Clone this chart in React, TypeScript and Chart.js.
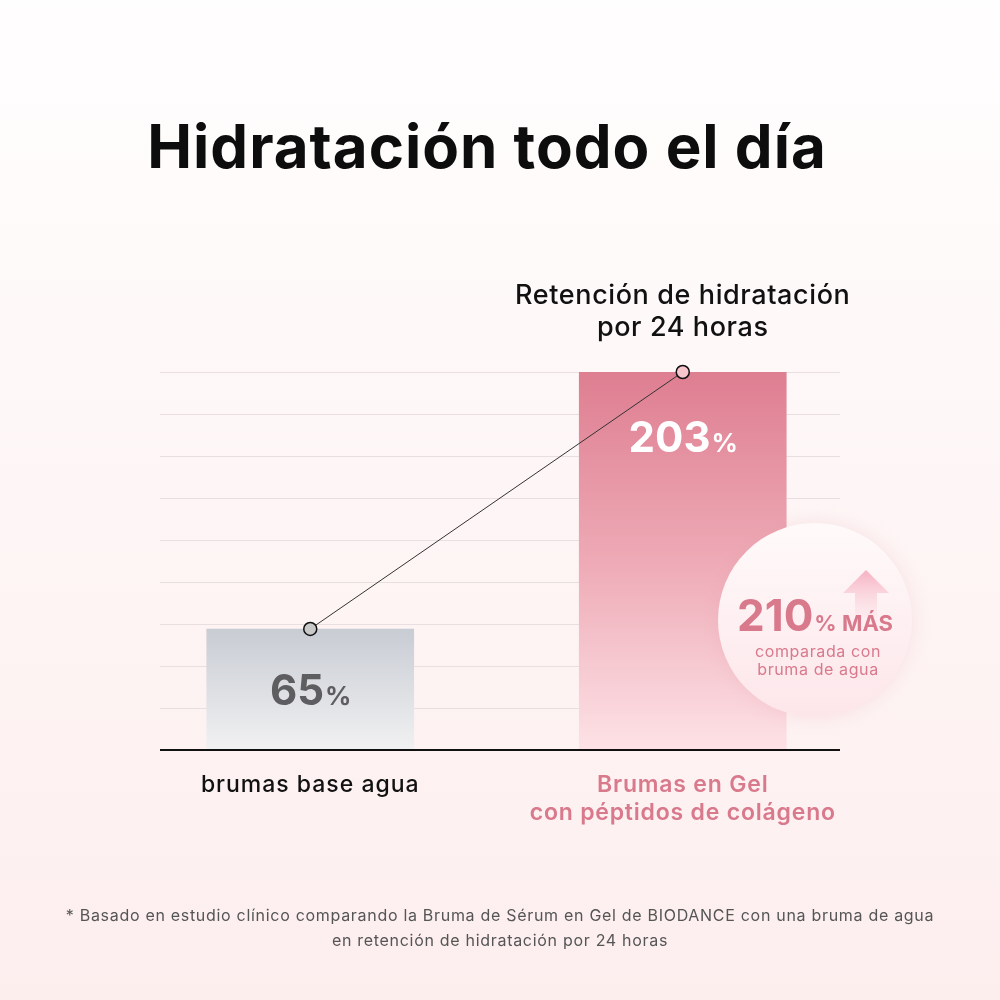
import React, { useEffect, useRef } from "react";
import { Chart, registerables } from "chart.js";

Chart.register(...registerables);

const title = "Hidratación todo el día";
const subtitleLines = ["Retención de hidratación", "por 24 horas"];
const categories: string[][] = [["brumas base agua"], ["Brumas en Gel", "con péptidos de colágeno"]];
const values = [65, 203];
const valueUnits = ["%", "%"];
const yMax = 203;
const gridLineCount = 10;
const badgeValue = "210";
const badgeUnit = "% MÁS";
const badgeLines = ["comparada con", "bruma de agua"];
const footnoteLines = [
  "* Basado en estudio clínico comparando la Bruma de Sérum en Gel de BIODANCE con una bruma de agua",
  "en retención de hidratación por 24 horas",
];

const FONT = "Inter, 'Noto Sans', sans-serif";
const PINK = "#d9798c";

export default function App() {
  const ref = useRef<HTMLCanvasElement | null>(null);

  useEffect(() => {
    const canvas = ref.current;
    if (!canvas) return;

    const decor = {
      id: "decor",
      beforeDraw(chart: any) {
        const { ctx, width, height } = chart;
        ctx.save();
        const bg = ctx.createLinearGradient(0, 0, 0, height);
        bg.addColorStop(0, "#fffefe");
        bg.addColorStop(0.35, "#fef8f8");
        bg.addColorStop(1, "#fdeeee");
        ctx.fillStyle = bg;
        ctx.fillRect(0, 0, width, height);
        const y = chart.scales.y;
        ctx.strokeStyle = "#eadfe0";
        ctx.lineWidth = 1;
        for (let i = 0; i < gridLineCount; i++) {
          const v = (yMax / (gridLineCount - 1)) * i;
          const py = Math.round(y.getPixelForValue(v)) + 0.5;
          ctx.beginPath();
          ctx.moveTo(160, py);
          ctx.lineTo(840, py);
          ctx.stroke();
        }
        ctx.restore();
      },
      afterDatasetsDraw(chart: any) {
        const { ctx } = chart;
        const y = chart.scales.y;
        ctx.save();
        ctx.strokeStyle = "#111";
        ctx.lineWidth = 2;
        const by = y.getPixelForValue(0);
        ctx.beginPath();
        ctx.moveTo(160, by);
        ctx.lineTo(840, by);
        ctx.stroke();
        ctx.restore();
      },
      afterDraw(chart: any) {
        const { ctx } = chart;
        const x = chart.scales.x;
        const y = chart.scales.y;
        ctx.save();
        ctx.textBaseline = "middle";
        ctx.textAlign = "center";

        // title
        ctx.fillStyle = "#0d0d0d";
        ctx.letterSpacing = "1px";
        ctx.font = `700 60px ${FONT}`;
        ctx.fillText(title, 487, 150);

        // subtitle
        ctx.fillStyle = "#111";
        ctx.letterSpacing = "0.6px";
        ctx.font = `500 27px ${FONT}`;
        const cx2 = x.getPixelForValue(1);
        subtitleLines.forEach((l, i) => ctx.fillText(l, cx2, 296 + i * 32));
        ctx.letterSpacing = "0px";

        // value labels
        const drawValue = (i: number, color: string, cy: number) => {
          const num = String(values[i]);
          const unit = valueUnits[i];
          ctx.font = `700 42px ${FONT}`;
          const w1 = ctx.measureText(num).width;
          ctx.font = `700 26px ${FONT}`;
          const w2 = ctx.measureText(unit).width;
          const start = x.getPixelForValue(i) - (w1 + w2) / 2;
          ctx.textAlign = "left";
          ctx.textBaseline = "alphabetic";
          ctx.fillStyle = color;
          ctx.font = `700 42px ${FONT}`;
          ctx.fillText(num, start, cy + 15);
          ctx.font = `700 26px ${FONT}`;
          ctx.fillText(unit, start + w1 + 1, cy + 15);
          ctx.textAlign = "center";
          ctx.textBaseline = "middle";
        };
        drawValue(0, "#5e5e60", (y.getPixelForValue(values[0]) + y.getPixelForValue(0)) / 2 + 1);
        drawValue(1, "#ffffff", y.getPixelForValue(values[1]) + 65);

        // category labels
        categories.forEach((lines, i) => {
          ctx.letterSpacing = i === 0 ? "1px" : "0.8px";
          ctx.fillStyle = i === 0 ? "#111" : PINK;
          ctx.font = `${i === 0 ? 500 : 600} 23px ${FONT}`;
          lines.forEach((l, j) => ctx.fillText(l, x.getPixelForValue(i), 785 + j * 28));
        });
        ctx.letterSpacing = "0px";

        // badge circle
        const bcx = 815, bcy = 620, br = 97;
        ctx.save();
        ctx.shadowColor = "rgba(225,150,165,0.22)";
        ctx.shadowBlur = 20;
        const cg = ctx.createLinearGradient(0, bcy - br, 0, bcy + br);
        cg.addColorStop(0, "#fffafa");
        cg.addColorStop(1, "#fde6ea");
        ctx.fillStyle = cg;
        ctx.beginPath();
        ctx.arc(bcx, bcy, br, 0, Math.PI * 2);
        ctx.fill();
        ctx.restore();

        // arrow
        const ag = ctx.createLinearGradient(0, 571, 0, 618);
        ag.addColorStop(0, "#f6b2c3");
        ag.addColorStop(1, "rgba(250,210,220,0.15)");
        ctx.fillStyle = ag;
        ctx.beginPath();
        ctx.moveTo(866, 570);
        ctx.lineTo(889, 593);
        ctx.lineTo(877, 593);
        ctx.lineTo(877, 618);
        ctx.lineTo(855, 618);
        ctx.lineTo(855, 593);
        ctx.lineTo(843, 593);
        ctx.closePath();
        ctx.fill();

        // badge text
        ctx.fillStyle = PINK;
        ctx.textAlign = "left";
        ctx.textBaseline = "alphabetic";
        ctx.font = `700 44px ${FONT}`;
        const bw1 = ctx.measureText(badgeValue).width;
        const bstart = 737;
        ctx.fillText(badgeValue, bstart, 631);
        ctx.font = `700 22px ${FONT}`;
        ctx.fillText(badgeUnit, bstart + bw1 + 1, 631);
        ctx.textAlign = "center";
        ctx.textBaseline = "middle";
        ctx.letterSpacing = "0.6px";
        ctx.font = `400 16px ${FONT}`;
        badgeLines.forEach((l, i) => ctx.fillText(l, bcx + 3, 652 + i * 18));

        // footnote
        ctx.fillStyle = "#555";
        ctx.letterSpacing = "0.7px";
        ctx.font = `400 16px ${FONT}`;
        footnoteLines.forEach((l, i) => ctx.fillText(l, 500, 916 + i * 25));
        ctx.letterSpacing = "0px";

        ctx.restore();
      },
    };

    const chart = new Chart(canvas, {
      type: "bar",
      data: {
        labels: categories.map((c) => c.join(" ")),
        datasets: [
          {
            type: "line",
            data: values,
            order: 0,
            borderColor: "#333",
            borderWidth: 1,
            pointRadius: 6.5,
            pointBorderWidth: 1.5,
            pointBorderColor: "#111",
            pointBackgroundColor: ["#c9c9c9", "#f7c5cb"],
            clip: false,
          } as any,
          {
            type: "bar",
            data: values,
            order: 1,
            barThickness: 207,
            borderWidth: 0,
            backgroundColor: (c: any) => {
              const chart = c.chart;
              const area = chart.chartArea;
              if (!area) return "#ccc";
              const y = chart.scales.y;
              const top = y.getPixelForValue(values[c.dataIndex]);
              const g = chart.ctx.createLinearGradient(0, top, 0, area.bottom);
              if (c.dataIndex === 0) {
                g.addColorStop(0, "#c8ccd3");
                g.addColorStop(1, "#f1f1f2");
              } else {
                g.addColorStop(0, "#de7e91");
                g.addColorStop(0.5, "#eeaab6");
                g.addColorStop(1, "#fde2e6");
              }
              return g;
            },
          } as any,
        ],
      },
      options: {
        animation: false,
        responsive: false,
        maintainAspectRatio: false,
        layout: { padding: { left: 124, right: 131, top: 372, bottom: 250 } },
        plugins: { legend: { display: false }, tooltip: { enabled: false } },
        scales: {
          x: { display: false },
          y: { display: false, min: 0, max: yMax },
        },
      },
      plugins: [decor],
    });
    return () => chart.destroy();
  }, []);

  return (
    <div style={{ position: "absolute", left: 0, top: 0, width: 1000, height: 1000 }}>
      <canvas ref={ref} width={1000} height={1000} style={{ width: 1000, height: 1000 }} />
    </div>
  );
}
